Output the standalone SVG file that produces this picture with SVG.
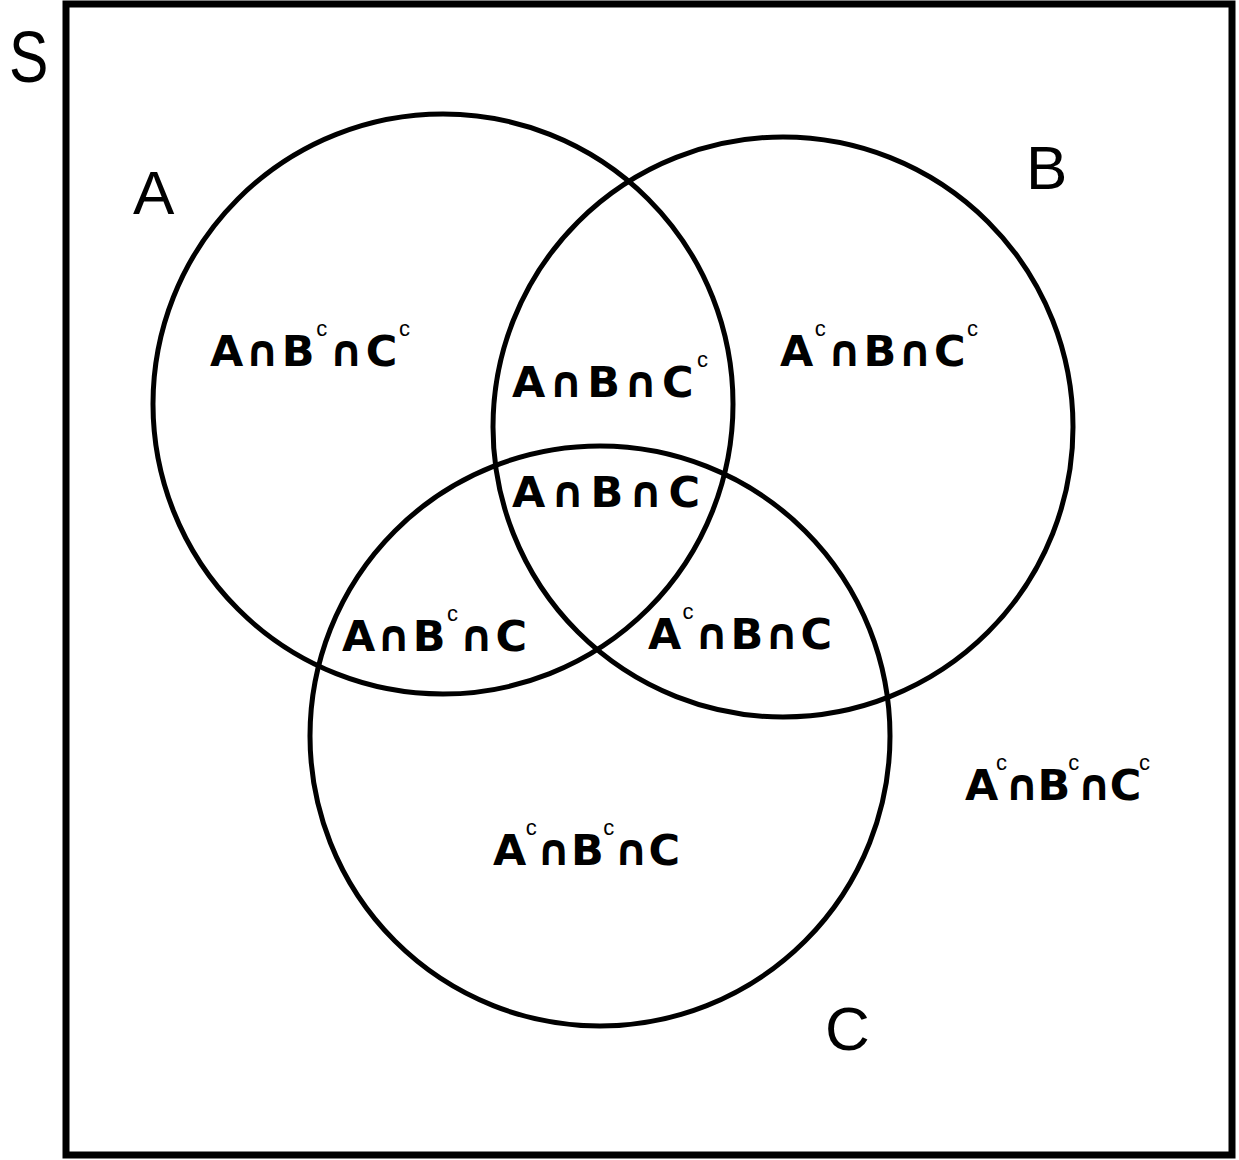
<svg xmlns="http://www.w3.org/2000/svg" width="1239" height="1160" viewBox="0 0 1239 1160">
<style>
.c{fill:none;stroke:#000;stroke-width:5}
.big{font-family:"Liberation Sans",Arial,sans-serif;font-size:62px;fill:#000}
.lbl{font-family:"DejaVu Sans","Liberation Sans",sans-serif;font-size:43px;font-weight:bold;fill:#000}
.sup{font-family:"Liberation Sans",Arial,sans-serif;font-size:22px;font-weight:normal}
</style>
<rect x="0" y="0" width="1239" height="1160" fill="#fff"/>
<g id="S"><rect x="66" y="4" width="1166" height="1151" fill="none" stroke="#000" stroke-width="7"/>
<text class="big" transform="translate(9,82) scale(0.82,1)" style="font-size:72px">S</text></g>
<g id="connectors">
<circle id="circleA" class="c" cx="443" cy="404" r="290"/>
<circle id="circleB" class="c" cx="783" cy="427" r="290"/>
<circle id="circleC" class="c" cx="600" cy="736" r="290"/>
</g>
<g id="A"><text class="big" x="133" y="214">A</text></g>
<g id="B"><text class="big" x="1026" y="189">B</text></g>
<g id="C"><text class="big" x="825" y="1050">C</text></g>
<g id="AnBcnCc"><text class="lbl" x="210" y="366" textLength="200" lengthAdjust="spacing">A∩B<tspan class="sup" dy="-30">c</tspan><tspan dy="30">∩C</tspan><tspan class="sup" dy="-30">c</tspan></text></g>
<g id="AnBnCc"><text class="lbl" x="512" y="397" textLength="196" lengthAdjust="spacing">A∩B∩C<tspan class="sup" dy="-30">c</tspan></text></g>
<g id="AcnBnCc"><text class="lbl" x="780" y="366" textLength="198" lengthAdjust="spacing">A<tspan class="sup" dy="-30">c</tspan><tspan dy="30">∩B∩C</tspan><tspan class="sup" dy="-30">c</tspan></text></g>
<g id="AnBnC"><text class="lbl" x="512" y="507" textLength="188" lengthAdjust="spacing">A∩B∩C</text></g>
<g id="AnBcnC"><text class="lbl" x="342" y="651" textLength="185" lengthAdjust="spacing">A∩B<tspan class="sup" dy="-30">c</tspan><tspan dy="30">∩C</tspan></text></g>
<g id="AcnBnC"><text class="lbl" x="648" y="649" textLength="184" lengthAdjust="spacing">A<tspan class="sup" dy="-30">c</tspan><tspan dy="30">∩B∩C</tspan></text></g>
<g id="AcnBcnCc"><text class="lbl" x="965" y="800" textLength="185" lengthAdjust="spacing">A<tspan class="sup" dy="-30">c</tspan><tspan dy="30">∩B</tspan><tspan class="sup" dy="-30">c</tspan><tspan dy="30">∩C</tspan><tspan class="sup" dy="-30">c</tspan></text></g>
<g id="AcnBcnC"><text class="lbl" x="493" y="865" textLength="187" lengthAdjust="spacing">A<tspan class="sup" dy="-30">c</tspan><tspan dy="30">∩B</tspan><tspan class="sup" dy="-30">c</tspan><tspan dy="30">∩C</tspan></text></g>
</svg>
